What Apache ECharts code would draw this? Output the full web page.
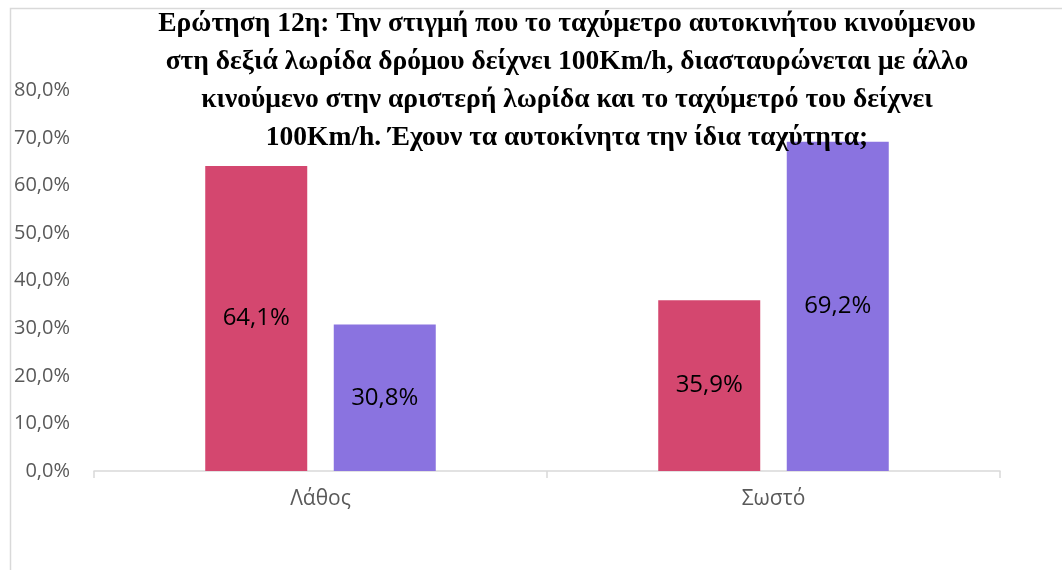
<!DOCTYPE html>
<html>
<head>
<meta charset="utf-8">
<script src="https://cdn.jsdelivr.net/npm/echarts@6/dist/echarts.min.js"></script>
<style>
  html, body { margin: 0; padding: 0; background: #fff; }
  #chart { width: 1062px; height: 570px; }
</style>
</head>
<body>
<div id="chart"></div>
<script>
const categories = ['Λάθος', 'Σωστό']
const seriesA = [64.1, 35.9]
const seriesB = [30.8, 69.2]
const yTicks = { min: 0, max: 80, interval: 10 }
const titleText = 'Ερώτηση 12η: Την στιγμή που το ταχύμετρο αυτοκινήτου κινούμενου\n' +
  'στη δεξιά λωρίδα δρόμου δείχνει 100Km/h, διασταυρώνεται με άλλο\n' +
  'κινούμενο στην αριστερή λωρίδα και το ταχύμετρό του δείχνει\n' +
  '100Km/h. Έχουν τα αυτοκίνητα την ίδια ταχύτητα;'

const fmt = v => v.toFixed(1).replace('.', ',') + '%'

const chart = echarts.init(document.getElementById('chart'))

const labelStyle = {
  show: true,
  position: 'inside',
  color: '#000',
  fontFamily: 'Open Sans',
  fontSize: 24,
  formatter: p => fmt(p.value),
}

chart.setOption({
  animation: false,
  backgroundColor: '#fff',
  title: {
    text: titleText,
    left: 567,
    top: 5,
    padding: 0,
    textAlign: 'center',
    textStyle: {
      fontFamily: 'Liberation Serif',
      fontWeight: 'bold',
      fontSize: 27.5,
      lineHeight: 38,
      color: '#000',
    },
  },
  graphic: [
    {
      type: 'rect',
      left: 8,
      top: 6,
      shape: { width: 1200, height: 700 },
      style: { fill: 'none', stroke: '#d9d9d9', lineWidth: 1.5 },
      silent: true,
    },
  ],
  grid: {
    left: 94,
    right: 62,
    top: 90.5,
    bottom: 99,
  },
  xAxis: {
    type: 'category',
    data: categories,
    axisLine: { lineStyle: { color: '#d9d9d9', width: 1.5 } },
    axisTick: { show: true, length: 7, lineStyle: { color: '#d9d9d9', width: 1.5 } },
    axisLabel: { color: '#595959', fontFamily: 'Open Sans', fontSize: 21, margin: 18 },
  },
  yAxis: {
    type: 'value',
    min: yTicks.min,
    max: yTicks.max,
    interval: yTicks.interval,
    axisLine: { show: false },
    axisTick: { show: false },
    splitLine: { show: false },
    axisLabel: {
      color: '#595959',
      fontFamily: 'Open Sans',
      fontSize: 20,
      margin: 24,
      formatter: v => fmt(v),
    },
  },
  series: [
    {
      name: 'A',
      type: 'bar',
      data: seriesA,
      barWidth: 102,
      barGap: '26%',
      itemStyle: { color: '#d4476f' },
      label: labelStyle,
    },
    {
      name: 'B',
      type: 'bar',
      data: seriesB,
      barWidth: 102,
      itemStyle: { color: '#8a73e0' },
      label: labelStyle,
    },
  ],
})
</script>
</body>
</html>
